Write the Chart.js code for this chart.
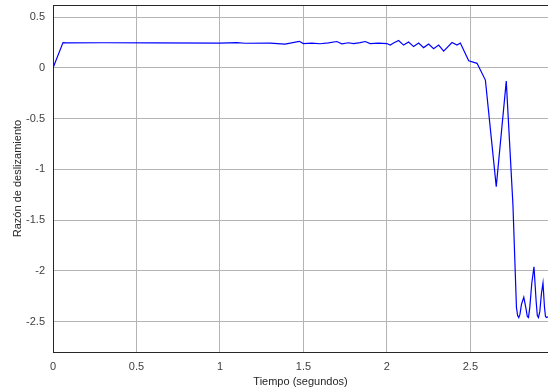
<!DOCTYPE html>
<html>
<head>
    <meta charset="utf-8">
    <title>Razón de deslizamiento</title>
    <script src="https://cdn.jsdelivr.net/npm/chart.js"></script>
    <style>
        body { margin: 0; background: #fff; }
    </style>
</head>
<body>
    <canvas id="mainChart" width="548" height="389"></canvas>
    <script>
        // Tiempo (s) y razón de deslizamiento
        const tiempo = [0, 0.06, 0.08, 0.3, 0.6, 1.0, 1.1, 1.15, 1.3, 1.39, 1.475, 1.5, 1.55, 1.6, 1.65,
            1.70, 1.73, 1.77, 1.80, 1.84, 1.87, 1.90, 1.95, 2.0, 2.02, 2.04, 2.07, 2.10, 2.13, 2.16,
            2.19, 2.22, 2.25, 2.28, 2.31, 2.34, 2.39, 2.42, 2.44, 2.49, 2.54, 2.59, 2.655, 2.715,
            2.755, 2.776, 2.783, 2.79, 2.797, 2.806, 2.82, 2.834, 2.841, 2.848, 2.856, 2.868, 2.881,
            2.894, 2.901, 2.908, 2.916, 2.926, 2.935, 2.944, 2.95, 2.956, 2.97];
        const razon = [0, 0.25, 0.247, 0.248, 0.246, 0.245, 0.25, 0.243, 0.244, 0.235, 0.262, 0.24, 0.245, 0.238, 0.246,
            0.26, 0.238, 0.248, 0.24, 0.25, 0.26, 0.24, 0.245, 0.24, 0.225, 0.245, 0.27, 0.225, 0.255, 0.21,
            0.245, 0.2, 0.235, 0.19, 0.225, 0.165, 0.25, 0.225, 0.245, 0.07, 0.045, -0.12, -1.17, -0.13,
            -1.35, -2.36, -2.44, -2.46, -2.43, -2.33, -2.26, -2.38, -2.45, -2.46, -2.36, -2.12, -1.96,
            -2.3, -2.44, -2.46, -2.4, -2.22, -2.12, -2.36, -2.45, -2.46, -2.45];

        const xTicks = [0, 0.5, 1, 1.5, 2, 2.5];
        const yTicks = [-2.5, -2, -1.5, -1, -0.5, 0, 0.5];

        const puntos = tiempo.map((t, i) => ({ x: t, y: razon[i] }));

        // Borde superior del área de gráfico
        const bordeSuperior = {
            id: 'bordeSuperior',
            afterDraw(chart) {
                const { ctx, chartArea } = chart;
                ctx.save();
                ctx.strokeStyle = '#262626';
                ctx.lineWidth = 1;
                ctx.beginPath();
                ctx.moveTo(chartArea.left, chartArea.top + 0.5);
                ctx.lineTo(chartArea.right, chartArea.top + 0.5);
                ctx.stroke();
                ctx.restore();
            }
        };

        new Chart(document.getElementById('mainChart'), {
            type: 'line',
            data: {
                datasets: [{
                    data: puntos,
                    borderColor: '#0000ff',
                    borderWidth: 1.2,
                    pointRadius: 0,
                    fill: false,
                    tension: 0
                }]
            },
            options: {
                responsive: false,
                animation: false,
                layout: { padding: { top: 5, right: 0, left: 0, bottom: 0 } },
                plugins: {
                    legend: { display: false },
                    tooltip: { enabled: false }
                },
                scales: {
                    x: {
                        type: 'linear',
                        min: 0,
                        max: 2.965,
                        afterBuildTicks: s => { s.ticks = xTicks.map(v => ({ value: v })); },
                        afterFit: s => { s.height = 37; s.paddingRight = 0; },
                        grid: { color: '#b4b4b4', drawTicks: false },
                        border: { color: '#262626', width: 1 },
                        ticks: {
                            padding: 8,
                            color: '#404040',
                            font: { family: 'Liberation Sans', size: 11 },
                            maxRotation: 0,
                            callback: v => String(v)
                        },
                        title: {
                            display: true,
                            text: 'Tiempo (segundos)',
                            color: '#262626',
                            font: { family: 'Liberation Sans', size: 11 },
                            padding: { top: 0, bottom: 0 }
                        }
                    },
                    y: {
                        type: 'linear',
                        min: -2.8,
                        max: 0.62,
                        afterBuildTicks: s => { s.ticks = yTicks.map(v => ({ value: v })); },
                        afterFit: s => { s.width = 53; s.paddingTop = 0; s.paddingBottom = 0; },
                        grid: { color: '#b4b4b4', drawTicks: false },
                        border: { color: '#262626', width: 1 },
                        ticks: {
                            padding: 8,
                            color: '#404040',
                            font: { family: 'Liberation Sans', size: 11 },
                            callback: v => String(v)
                        },
                        title: {
                            display: true,
                            text: 'Razón de deslizamiento',
                            color: '#262626',
                            font: { family: 'Liberation Sans', size: 11 },
                            padding: { top: 11, bottom: 0 }
                        }
                    }
                }
            },
            plugins: [bordeSuperior]
        });
    </script>
</body>
</html>
